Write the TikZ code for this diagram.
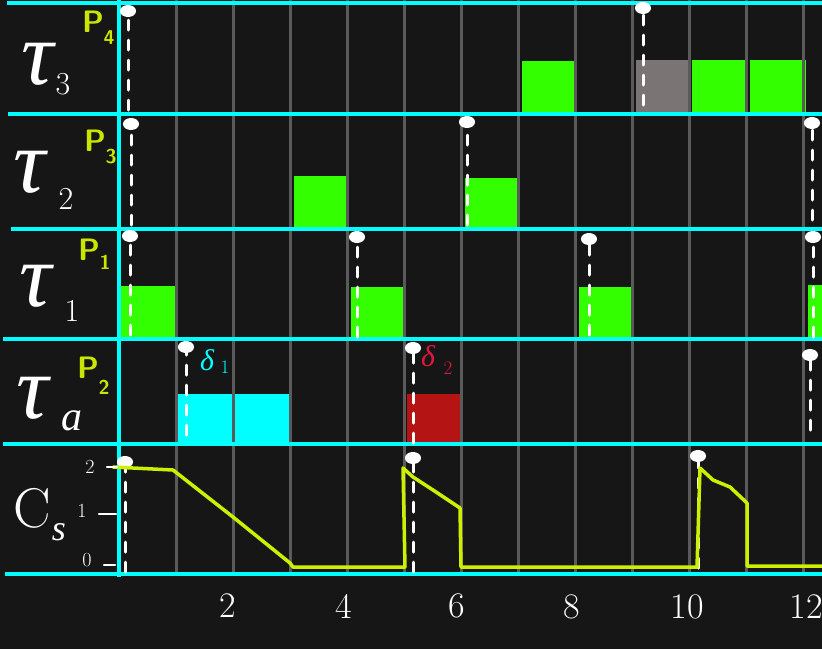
\documentclass[tikz,border=0pt]{standalone}
\usepackage{fontspec}
\newfontfamily\grk{Liberation Serif}
\usetikzlibrary{arrows.meta}
\definecolor{bg}{HTML}{161616}
\definecolor{cy}{HTML}{00FFFF}
\definecolor{gridg}{HTML}{5A5A5A}
\definecolor{grn}{HTML}{33FF00}
\definecolor{blk}{HTML}{7A7574}
\definecolor{rd}{HTML}{B41414}
\definecolor{yg}{HTML}{CCF000}
\definecolor{pl}{HTML}{C8E600}
\definecolor{rdl}{HTML}{E0183C}
\begin{document}
\begin{tikzpicture}[x=1pt,y=-1pt,
  cyanline/.style={cy,line width=3.5pt},
  gridline/.style={gridg,line width=3pt},
  rel/.style={white,line width=3pt,line cap=round,dash pattern=on 10pt off 10pt,-{Circle[length=12pt,width=16pt]}},
  ccurve/.style={yg,line width=3.5pt,line join=round,line cap=round},
  tick/.style={white,line width=2.5pt,line cap=round},
  tlab/.style={white,inner sep=0pt},
  taufont/.style={font=\grk\itshape\fontsize{90}{90}\selectfont},
  plab/.style={pl,inner sep=0pt,font=\sffamily\bfseries\fontsize{31}{31}\selectfont},
  psub/.style={pl,inner sep=0pt,font=\sffamily\bfseries\fontsize{20}{20}\selectfont},
  axlab/.style={white,inner sep=0pt,font=\fontsize{36}{36}\selectfont},
  clab/.style={white,inner sep=0pt,font=\fontsize{20}{20}\selectfont}]
\fill[bg] (0,0) rectangle (822,649);
\useasboundingbox (0,0) rectangle (822,649);
% execution blocks
\fill[grn] (522,61) rectangle (574,112);
\fill[blk] (636,60) rectangle (689,112);
\fill[grn] (692,60) rectangle (747,112);
\fill[grn] (750,60) rectangle (806,112);
\fill[grn] (294,176) rectangle (346,228);
\fill[grn] (465,178) rectangle (517,228);
\fill[grn] (121,286) rectangle (175,338);
\fill[grn] (351,287) rectangle (404,338);
\fill[grn] (579,287) rectangle (632,338);
\fill[grn] (808,285) rectangle (822,338);
\fill[cy] (178,394) rectangle (232,443);
\fill[cy] (233,394) rectangle (290,443);
\fill[rd] (407,394) rectangle (461,443);
% grid
\foreach \k in {1,...,12}{
  \draw[gridline] (119+57*\k,0) -- (119+57*\k,574);
}
% cyan frame lines
\foreach \y/\xs in {3/7,114/8,229/11,339/3,444/3,574/5}{
  \draw[cyanline] (\xs,\y) -- (822,\y);
}
\draw[cyanline] (119,0) -- (119,577);
% release arrows
\foreach \n/\x/\yb/\yt in {a/128/110/5, b/643/105/2, c/131/225/118, d/467/225/116, e/812/220/117,
  f/130/335/230, g/357/337/231, h/589/335/233, i/813/337/231,
  j/186/435/341, k/413/443/342, l/810/430/349,
  m/125/572/456, n/413/572/452, o/698/568/450}{
  \coordinate (\n-b) at (\x,\yb);
  \coordinate (\n-t) at (\x,\yt);
  \draw[rel] (\n-b) -- (\n-t);
}
% capacity curve
\draw[ccurve] (113,467) -- (173,470) -- (233,517) -- (290,563) -- (293,567) -- (405,567)
  -- (403,468) -- (413,477) -- (433,490) -- (460,508) -- (461,567) -- (697,567)
  -- (700,468) -- (713,480) -- (730,487) -- (747,503) -- (747,566) -- (822,566);
% capacity ticks
\coordinate (t2a) at (107,467); \coordinate (t2b) at (117,467);
\coordinate (t1a) at (99,514);  \coordinate (t1b) at (116,514);
\coordinate (t0a) at (104,565); \coordinate (t0b) at (115,565);
\draw[tick] (t2a) -- (t2b);
\draw[tick] (t1a) -- (t1b);
\draw[tick] (t0a) -- (t0b);
\node[clab] (c2) at (90,467) {2};
\node[clab] (c1) at (82,511) {1};
\node[clab] (c0) at (87,560) {0};
% row labels
\node[tlab,taufont] (L3) at (38,64) {τ};
\node[tlab] (L3s) at (63,84) {\fontsize{32}{32}\selectfont 3};
\node[tlab,taufont] (L2) at (30,172) {τ};
\node[tlab] (L2s) at (66,199) {\fontsize{32}{32}\selectfont 2};
\node[tlab,taufont] (L1) at (36,286) {τ};
\node[tlab] (L1s) at (72,311) {\fontsize{32}{32}\selectfont 1};
\node[tlab,taufont] (La) at (33,398) {τ};
\node[tlab] (Las) at (72,421) {\grk\itshape\fontsize{42}{42}\selectfont a};
\node[tlab] (LC) at (32,508) {\fontsize{56}{56}\selectfont C};
\node[tlab] (LCs) at (59,532) {\grk\itshape\fontsize{36}{36}\selectfont s};
% priorities
\node[plab] (P4) at (93,22) {P};  \node[psub] (P4s) at (109,38) {4};
\node[plab] (P3) at (95,141) {P}; \node[psub] (P3s) at (111,157) {3};
\node[plab] (P1) at (89,250) {P}; \node[psub] (P1s) at (105,262) {1};
\node[plab] (P2) at (88,368) {P}; \node[psub] (P2s) at (104,387) {2};
% aperiodic request labels
\node[inner sep=0pt,cy] (d1) at (207,360) {\grk\itshape\fontsize{30}{30}\selectfont δ};
\node[inner sep=0pt,cy] (d1s) at (225,367) {\fontsize{19}{19}\selectfont 1};
\node[inner sep=0pt,rdl] (d2) at (428,356) {\grk\itshape\fontsize{30}{30}\selectfont δ};
\node[inner sep=0pt,rdl] (d2s) at (448,368) {\fontsize{19}{19}\selectfont 2};
% time axis
\node[axlab] (x2) at (228,606) {2};
\node[axlab] (x4) at (344,606) {4};
\node[axlab] (x6) at (457,606) {6};
\node[axlab] (x8) at (572,607) {8};
\node[axlab] (x10) at (687,607) {10};
\node[axlab] (x12) at (806,607) {12};
\end{tikzpicture}
\end{document}
